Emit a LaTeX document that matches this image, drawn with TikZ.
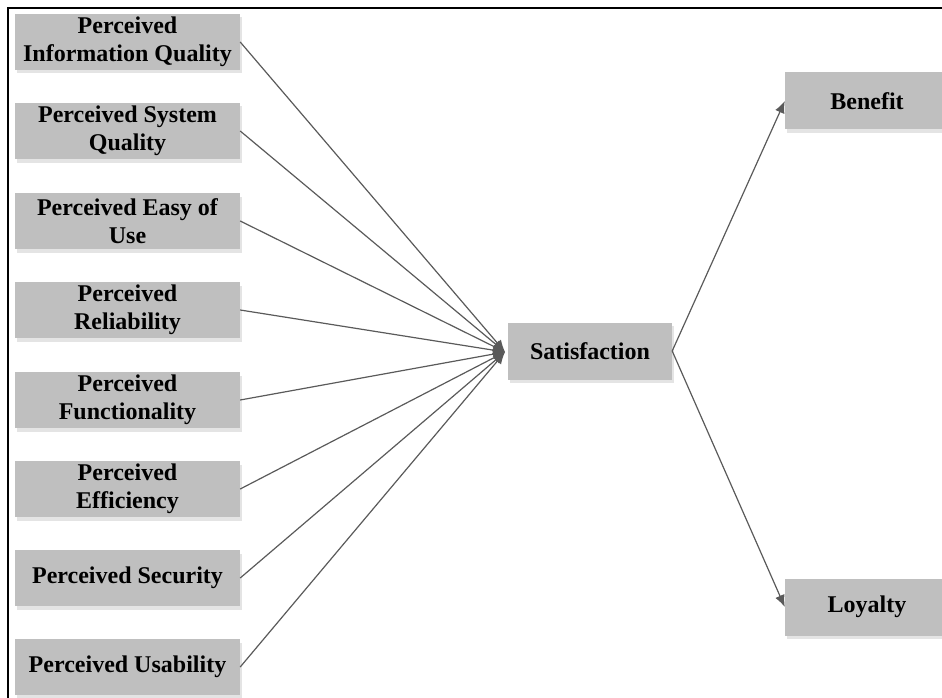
\documentclass[tikz,border=0pt]{standalone}
\usepackage{fontspec}
\setmainfont{Liberation Serif}
\usetikzlibrary{shadows,arrows.meta}
\definecolor{boxgray}{RGB}{191,191,191}
\definecolor{linegray}{RGB}{90,90,90}
\definecolor{shadowgray}{RGB}{228,228,228}
\begin{document}
\begin{tikzpicture}[x=1pt,y=-1pt,
  box/.style={draw=none, fill=boxgray, minimum width=225pt, minimum height=56pt,
    inner sep=0pt, align=center, font=\fontsize{24}{28}\selectfont\bfseries,
    drop shadow={shadow xshift=1.5pt, shadow yshift=-3.5pt, fill=shadowgray, opacity=1}},
  rbox/.style={box, minimum width=164pt, minimum height=57pt},
  link/.style={draw=linegray, line width=1.2pt, -{Latex[length=12pt,width=10pt]}}]
\useasboundingbox (0,0) rectangle (942,698);
\draw[line width=2pt] (8,720) -- (8,8) -- (960,8);

\node[box] (a1) at (127.5,42)  {Perceived\\Information Quality};
\node[box] (a2) at (127.5,131) {Perceived System\\Quality};
\node[box] (a3) at (127.5,221) {Perceived Easy of\\Use};
\node[box] (a4) at (127.5,310) {Perceived\\Reliability};
\node[box] (a5) at (127.5,400) {Perceived\\Functionality};
\node[box] (a6) at (127.5,489) {Perceived\\Efficiency};
\node[box] (a7) at (127.5,578) {Perceived Security};
\node[box] (a8) at (127.5,667) {Perceived Usability};

\node[rbox] (sat) at (590,351) {Satisfaction};
\node[rbox] (ben) at (867,101) {Benefit};
\node[rbox] (loy) at (867,607) {Loyalty};

\coordinate (hub) at (505,352);
\foreach \i in {1,...,8} {
  \draw[link] (a\i.east) -- (hub);
}
\draw[link] (sat.east) -- (ben.west);
\draw[link] (sat.east) -- (loy.west);
\end{tikzpicture}
\end{document}
